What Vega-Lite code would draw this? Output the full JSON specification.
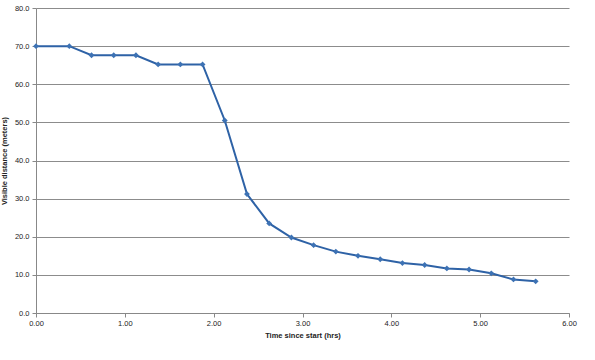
{
  "$schema": "https://vega.github.io/schema/vega-lite/v6.json",
  "width": 533,
  "height": 305,
  "autosize": {"type": "none"},
  "padding": {"left": 36, "top": 8, "right": 26, "bottom": 47},
  "background": "white",
  "config": {"view": {"stroke": null}, "font": "Liberation Sans"},
  "data": {"values": [
    {"t": 0, "d": 70.0},
    {"t": 0.375, "d": 70.0},
    {"t": 0.625, "d": 67.6},
    {"t": 0.875, "d": 67.6},
    {"t": 1.125, "d": 67.6},
    {"t": 1.375, "d": 65.2},
    {"t": 1.625, "d": 65.2},
    {"t": 1.875, "d": 65.2},
    {"t": 2.125, "d": 50.5},
    {"t": 2.375, "d": 31.2},
    {"t": 2.625, "d": 23.5},
    {"t": 2.875, "d": 19.8},
    {"t": 3.125, "d": 17.8},
    {"t": 3.375, "d": 16.1},
    {"t": 3.625, "d": 15.0},
    {"t": 3.875, "d": 14.1},
    {"t": 4.125, "d": 13.1},
    {"t": 4.375, "d": 12.6},
    {"t": 4.625, "d": 11.7},
    {"t": 4.875, "d": 11.4},
    {"t": 5.125, "d": 10.4},
    {"t": 5.375, "d": 8.8},
    {"t": 5.625, "d": 8.3}
  ]},
  "encoding": {
    "x": {"field": "t", "type": "quantitative",
      "scale": {"domain": [0, 6], "nice": false, "zero": true},
      "axis": {"title": "Time since start (hrs)", "format": ".2f", "values": [0,1,2,3,4,5,6],
        "grid": false, "domainColor": "#888888", "tickColor": "#888888", "tickSize": 4,
        "labelFlush": false, "labelBound": false,
        "labelFontSize": 7.5, "labelColor": "#222222", "labelPadding": 2,
        "titleFontSize": 7.5, "titleFontWeight": "bold", "titleColor": "#222222", "titlePadding": 5}},
    "y": {"field": "d", "type": "quantitative",
      "scale": {"domain": [0, 80], "nice": false},
      "axis": {"title": "Visible distance (meters)", "format": ".1f", "values": [0,10,20,30,40,50,60,70,80],
        "grid": true, "gridColor": "#8c8c8c", "gridWidth": 1, "gridOpacity": 1,
        "labelFlush": false, "labelBound": false,
        "domainColor": "#888888", "tickColor": "#888888", "tickSize": 4,
        "labelFontSize": 7.5, "labelColor": "#222222", "labelPadding": 3,
        "titleFontSize": 7.5, "titleFontWeight": "bold", "titleColor": "#222222", "titlePadding": 6}}
  },
  "layer": [
    {"mark": {"type": "line", "color": "#2e62a6", "strokeWidth": 2}},
    {"mark": {"type": "point", "shape": "diamond", "filled": true, "color": "#3d72b4", "size": 34, "opacity": 1}}
  ]
}
